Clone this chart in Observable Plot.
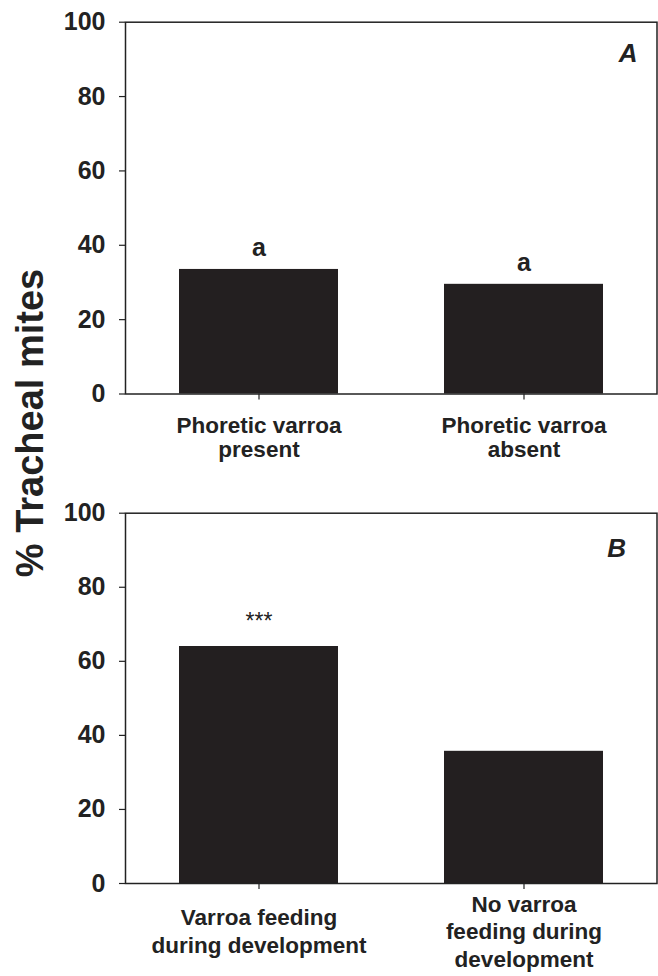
<!DOCTYPE html>
<html>
<head>
<meta charset="utf-8">
<script src="https://cdn.jsdelivr.net/npm/d3@7"></script>
<script src="https://cdn.jsdelivr.net/npm/@observablehq/plot@0.6"></script>
<style>
  html, body { margin: 0; padding: 0; background: #fff; }
  #wrap { position: relative; width: 658px; height: 976px; background: #fff; font-family: "Liberation Sans", Arial, sans-serif; }
  #wrap svg { position: absolute; left: 0; background: transparent; }
  #ytitle { position: absolute; left: 30px; top: 423px; transform: translate(-50%, -50%) rotate(-90deg);
    white-space: nowrap; font-weight: bold; font-size: 38px; color: #222; }
</style>
</head>
<body>
<div id="wrap"></div>
<script>
// ---- data ----
const groupsA = ["Phoretic varroa present", "Phoretic varroa absent"];
const labelsA = ["Phoretic varroa\npresent", "Phoretic varroa\nabsent"];
const valuesA = [33.5, 29.5];
const lettersA = ["a", "a"];

const groupsB = ["Varroa feeding during development", "No varroa feeding during development"];
const labelsB = ["Varroa feeding\nduring development", "No varroa\nfeeding during\ndevelopment"];
const valuesB = [64.0, 35.7];
const lettersB = ["***", ""];

const yTicks = [0, 20, 40, 60, 80, 100];
const panelTags = ["A", "B"];
const yTitle = "% Tracheal mites";

const FONT = "'Liberation Sans', Arial, Helvetica, sans-serif";
const INK = "#231f20";

function makePanel(cfg) {
  const rows = cfg.groups.map((g, i) => ({group: g, label: cfg.labels[i], value: cfg.values[i], mark: cfg.marks[i]}));
  const chart = Plot.plot({
    width: 658,
    height: cfg.height,
    marginLeft: 125,
    marginRight: 1.5,
    marginTop: cfg.marginTop,
    marginBottom: cfg.marginBottom,
    style: {fontFamily: FONT, color: "#222", background: "transparent", overflow: "visible"},
    x: {type: "band", domain: cfg.groups, paddingInner: 0.4, paddingOuter: 0.2},
    y: {domain: [0, 100]},
    marks: [
      Plot.barY(rows, {x: "group", y: "value", fill: INK}),
      Plot.frame({stroke: "#222", strokeWidth: 1.5}),
      Plot.axisY({ticks: yTicks, tickSize: 6, tickPadding: 14, fontSize: 25, fontWeight: "bold", label: null, strokeWidth: 1.2}),
      Plot.axisX({tickSize: 6, tickFormat: () => "", label: null, strokeWidth: 1.2}),
      Plot.text(rows, {x: "group", text: "label", frameAnchor: "bottom", dy: cfg.labelDy, lineAnchor: "middle",
        lineHeight: cfg.lineHeight, fontSize: 22.5, fontWeight: "bold", fill: "#222"}),
      Plot.text(rows, {x: "group", y: "value", text: "mark", dy: cfg.markDy, fontSize: cfg.markSize,
        fontWeight: cfg.markWeight, fill: "#222"}),
      Plot.text([cfg.tag], {text: d => d, frameAnchor: "top-right", dx: cfg.tagDx, dy: cfg.tagDy, lineAnchor: "middle",
        textAnchor: "end", fontSize: 26, fontWeight: "bold", fontStyle: "italic", fill: "#222"})
    ]
  });
  chart.style.top = cfg.top + "px";
  return chart;
}

const wrap = document.getElementById("wrap");
wrap.appendChild(makePanel({
  groups: groupsA, labels: labelsA, values: valuesA, marks: lettersA, tag: panelTags[0],
  top: 0, height: 488, marginTop: 21.7, marginBottom: 94.5,
  labelDy: 43, lineHeight: 1.08, markDy: -21, markSize: 25, markWeight: "bold",
  tagDx: -19.5, tagDy: 31
}));
wrap.appendChild(makePanel({
  groups: groupsB, labels: labelsB, values: valuesB, marks: lettersB, tag: panelTags[1],
  top: 488, height: 488, marginTop: 24.7, marginBottom: 93,
  labelDy: 47, lineHeight: 1.24, markDy: -25, markSize: 23, markWeight: "normal",
  tagDx: -31, tagDy: 35
}));
const yt = document.createElement("div");
yt.id = "ytitle";
yt.textContent = yTitle;
wrap.appendChild(yt);
</script>
</body>
</html>
